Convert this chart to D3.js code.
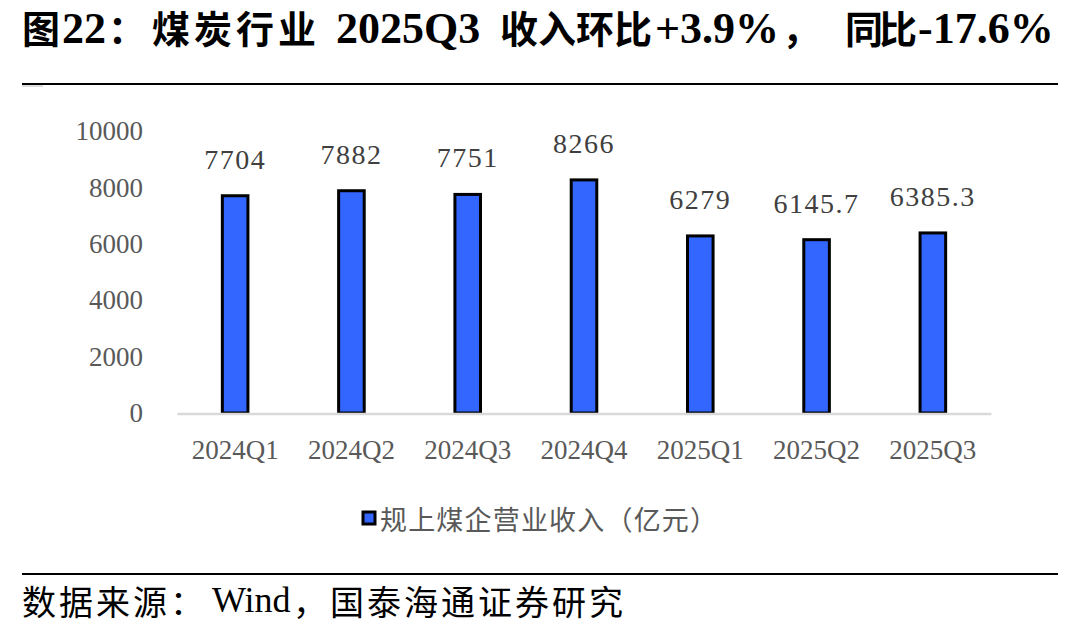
<!DOCTYPE html>
<html>
<head>
<meta charset="utf-8">
<script src="https://cdn.jsdelivr.net/npm/d3@7/dist/d3.min.js"></script>
<style>
  html, body { margin: 0; padding: 0; background: #fff; }
  svg { display: block; }
</style>
</head>
<body>
<svg id="chart"></svg>
<script>
// data
const quarters = ["2024Q1", "2024Q2", "2024Q3", "2024Q4", "2025Q1", "2025Q2", "2025Q3"];
const revenue = [7704, 7882, 7751, 8266, 6279, 6145.7, 6385.3];
const revenueLabels = ["7704", "7882", "7751", "8266", "6279", "6145.7", "6385.3"];
const yTicks = [0, 2000, 4000, 6000, 8000, 10000];
const titleRuns = ["图", "22", "：", "煤炭行业", "2025Q3", "收入环比", "+3.9%", "，", "同比", "-17.6%"];
const legendText = "规上煤企营业收入（亿元）";
const sourceRuns = ["数据来源：", "Wind", "，国泰海通证券研究"];

// where each title / source run starts, and its extra letter spacing (layout only)
const titleRunX = [22, 62, 108, 152, 336, 500, 655, 782, 845, 918];
const titleRunSpacing = [0, 0, 0, 4, 0, 0, 0, 0, -4, 0];
const sourceRunX = [22, 212, 293];

const width = 1087;
const height = 632;
const serif = "'Liberation Serif', 'Times New Roman', 'Noto Sans CJK SC', serif";
const cjk = "'Noto Sans CJK SC', sans-serif";
const isLatin = (s) => /^[\x00-\x7f]+$/.test(s);

const svg = d3.select("#chart")
  .attr("width", width)
  .attr("height", height);

// title
svg.append("text")
  .attr("y", 43)
  .attr("font-weight", "bold")
  .attr("fill", "#000")
  .selectAll("tspan")
  .data(titleRuns)
  .join("tspan")
  .attr("x", (d, i) => titleRunX[i])
  .attr("font-family", (d) => (isLatin(d) ? serif : cjk))
  .attr("font-size", (d) => (isLatin(d) ? 44 : 38))
  .attr("letter-spacing", (d, i) => titleRunSpacing[i])
  .text((d) => d);

// rules
svg.append("line")
  .attr("x1", 22).attr("x2", 1058)
  .attr("y1", 84).attr("y2", 84)
  .attr("stroke", "#000")
  .attr("stroke-width", 2);

svg.append("line")
  .attr("x1", 22).attr("x2", 43)
  .attr("y1", 86).attr("y2", 86)
  .attr("stroke", "#bbb")
  .attr("stroke-width", 1);

svg.append("line")
  .attr("x1", 22).attr("x2", 1058)
  .attr("y1", 574).attr("y2", 574)
  .attr("stroke", "#000")
  .attr("stroke-width", 2);

// source line
svg.append("text")
  .attr("y", 600)
  .attr("dominant-baseline", "central")
  .attr("fill", "#000")
  .selectAll("tspan")
  .data(sourceRuns)
  .join("tspan")
  .attr("x", (d, i) => sourceRunX[i])
  .attr("font-family", (d) => (isLatin(d) ? serif : cjk))
  .attr("font-size", (d) => (isLatin(d) ? 36 : 34))
  .attr("letter-spacing", (d) => (isLatin(d) ? 0 : 3))
  .text((d) => d);

// scales
const x = d3.scaleBand()
  .domain(quarters)
  .range([177, 991])
  .paddingInner(0.78)
  .paddingOuter(0.39);

const y = d3.scaleLinear()
  .domain([0, 10000])
  .range([413, 131]);

// y axis labels (no line, no ticks)
const yAxis = svg.append("g")
  .attr("transform", "translate(143,0)")
  .call(d3.axisLeft(y).tickValues(yTicks).tickSize(0).tickPadding(0).tickFormat(d3.format("d")))
  .call((g) => g.select(".domain").remove());

yAxis.selectAll("text")
  .attr("font-family", serif)
  .attr("font-size", 27)
  .attr("fill", "#595959");

// bars
svg.append("g")
  .selectAll("rect")
  .data(revenue)
  .join("rect")
  .attr("x", (d, i) => x(quarters[i]))
  .attr("y", (d) => y(d))
  .attr("width", x.bandwidth())
  .attr("height", (d) => y(0) - y(d))
  .attr("fill", "#3366FF")
  .attr("stroke", "#000")
  .attr("stroke-width", 3);

// value labels
svg.append("g")
  .selectAll("text")
  .data(revenue)
  .join("text")
  .attr("x", (d, i) => x(quarters[i]) + x.bandwidth() / 2)
  .attr("y", (d) => y(d) - 27)
  .attr("text-anchor", "middle")
  .attr("font-family", serif)
  .attr("font-size", 28)
  .attr("letter-spacing", 1.5)
  .attr("fill", "#404040")
  .text((d, i) => revenueLabels[i]);

// x axis
const xAxis = svg.append("g")
  .attr("transform", "translate(0,413.5)")
  .call(d3.axisBottom(x).tickSize(0).tickPadding(0));

xAxis.select(".domain")
  .attr("stroke", "#d9d9d9")
  .attr("stroke-width", 2.5);

xAxis.selectAll("text")
  .attr("dy", null)
  .attr("y", 45)
  .attr("font-family", serif)
  .attr("font-size", 27)
  .attr("fill", "#595959");

// legend
const legend = svg.append("g");

legend.append("rect")
  .attr("x", 363)
  .attr("y", 512)
  .attr("width", 12)
  .attr("height", 12)
  .attr("fill", "#3366FF")
  .attr("stroke", "#000")
  .attr("stroke-width", 3);

legend.append("text")
  .attr("x", 380)
  .attr("y", 518)
  .attr("dominant-baseline", "central")
  .attr("font-family", cjk)
  .attr("font-size", 27)
  .attr("fill", "#595959")
  .attr("textLength", 337)
  .attr("lengthAdjust", "spacing")
  .text(legendText);
</script>
</body>
</html>
